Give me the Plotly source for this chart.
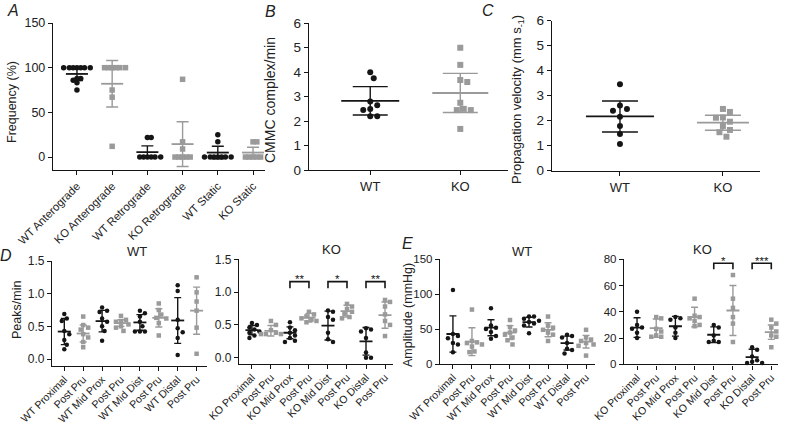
import plotly.graph_objects as go

W, H = 785, 425

# ---------------- DATA ----------------
A_cats = ["WT Anterograde", "KO Anterograde", "WT Retrograde", "KO Retrograde", "WT Static", "KO Static"]
A_vals = [
    [100, 100, 100, 100, 100, 100, 100, 88, 88, 86, 83, 75],
    [100, 100, 100, 100, 100, 100, 75, 67, 12],
    [0, 0, 0, 0, 0, 0, 22, 22],
    [0, 0, 0, 0, 0, 9, 17, 87],
    [0, 0, 0, 0, 0, 0, 0, 17, 25],
    [0, 0, 0, 0, 0, 17, 17],
]
A_mean = [93, 82, 5.5, 14.5, 5, 5]
A_sd = [7.5, 26, 7, 25, 7, 6]

B_cats = ["WT", "KO"]
B_vals = [
    [4.0, 3.75, 2.8, 2.65, 2.45, 2.5, 2.2, 2.2],
    [5.0, 4.3, 3.68, 3.6, 2.75, 2.45, 2.45, 2.5, 1.68],
]
B_mean = [2.83, 3.15]
B_sd = [0.58, 0.8]

C_cats = ["WT", "KO"]
C_vals = [
    [3.46, 2.61, 2.47, 2.4, 2.16, 1.79, 1.47, 1.07],
    [2.47, 2.35, 2.13, 2.12, 1.96, 1.79, 1.63, 1.54, 1.36],
]
C_mean = [2.17, 1.92]
C_sd = [0.62, 0.3]

D_WT_cats = ["WT Proximal", "Post Pru", "WT Mid Prox", "Post Pru", "WT Mid Dist", "Post Pru", "WT Distal", "Post Pru"]
D_WT_vals = [
    [0.69, 0.62, 0.58, 0.43, 0.38, 0.29, 0.22, 0.15],
    [0.65, 0.52, 0.48, 0.45, 0.38, 0.33, 0.26, 0.18],
    [0.79, 0.74, 0.72, 0.62, 0.57, 0.5, 0.43, 0.28],
    [0.66, 0.6, 0.58, 0.57, 0.53, 0.5, 0.48, 0.43],
    [0.74, 0.7, 0.65, 0.57, 0.5, 0.42, 0.42, 0.42],
    [0.85, 0.75, 0.68, 0.63, 0.62, 0.55, 0.36],
    [1.13, 1.04, 0.6, 0.47, 0.41, 0.32, 0.06],
    [1.25, 1.02, 0.88, 0.74, 0.48, 0.08],
]
D_WT_mean = [0.42, 0.39, 0.58, 0.55, 0.56, 0.63, 0.59, 0.74]
D_WT_sd = [0.2, 0.13, 0.165, 0.05, 0.12, 0.14, 0.35, 0.36]

D_KO_cats = ["KO Proximal", "Post Pru", "KO Mid Prox", "Post Pru", "KO Mid Dist", "Post Pru", "KO Distal", "Post Pru"]
D_KO_vals = [
    [0.53, 0.5, 0.46, 0.43, 0.4, 0.38, 0.34, 0.3],
    [0.56, 0.5, 0.42, 0.38, 0.36, 0.36, 0.36],
    [0.54, 0.46, 0.42, 0.38, 0.34, 0.3, 0.26, 0.24],
    [0.7, 0.66, 0.63, 0.6, 0.58, 0.56, 0.54],
    [0.72, 0.7, 0.62, 0.58, 0.38, 0.28, 0.24],
    [0.82, 0.78, 0.74, 0.7, 0.67, 0.62, 0.6],
    [0.45, 0.43, 0.4, 0.3, 0.08, 0.0, 0.0],
    [0.88, 0.85, 0.78, 0.66, 0.56, 0.5, 0.33],
]
D_KO_mean = [0.42, 0.41, 0.38, 0.61, 0.49, 0.71, 0.25, 0.65]
D_KO_sd = [0.07, 0.08, 0.09, 0.065, 0.22, 0.09, 0.21, 0.2]
D_KO_sig = [(2, 3, "**"), (4, 5, "*"), (6, 7, "**")]

E_WT_cats = D_WT_cats
E_WT_vals = [
    [106, 43, 40, 37, 30, 28, 17],
    [78, 33, 31, 30, 28, 25, 18, 17],
    [80, 55, 52, 50, 46, 40, 36],
    [63, 53, 48, 45, 42, 38, 34, 28],
    [68, 68, 65, 62, 60, 58, 55, 44],
    [68, 55, 52, 49, 45, 42, 33],
    [42, 40, 38, 30, 22, 20, 15],
    [49, 38, 35, 33, 30, 28, 26, 12],
]
E_WT_mean = [43, 32, 52, 45, 60, 49, 30, 32]
E_WT_sd = [26, 20, 11.5, 10, 7, 10, 10, 9]

E_KO_cats = D_KO_cats
E_KO_vals = [
    [40, 30, 28, 27, 24, 20],
    [36, 35, 27, 25, 22, 21, 21],
    [36, 35, 34, 28, 24, 20],
    [50, 37, 36, 35, 33, 30, 29],
    [30, 28, 22, 18, 17, 17],
    [68, 50, 43, 36, 31, 17],
    [13, 11, 6, 3, 2, 1, 1],
    [34, 31, 28, 25, 22, 21, 13],
]
E_KO_mean = [28, 27.5, 29, 36, 22.5, 41, 5.5, 24.5]
E_KO_sd = [7.5, 7, 7.5, 7.5, 6, 19, 6, 5.5]
E_KO_sig = [(4, 5, "*"), (6, 7, "***")]

# ---------------- STYLE ----------------
FONT = "Liberation Sans, Arial, sans-serif"
BLACK = "#151515"
GREY = "#9a9a9a"

fig = go.Figure()


def swarm(vals, ppu_x, ppu_y, d):
    """deterministic beeswarm offsets (x units) so markers don't pile up"""
    placed = []
    offs = [0.0] * len(vals)
    order = sorted(range(len(vals)), key=lambda i: -vals[i])
    step = d / 2.0
    for i in order:
        ypx = vals[i] * ppu_y
        k = 0
        while True:
            if k == 0:
                cand = 0.0
            else:
                cand = ((k + 1) // 2) * step * (1 if k % 2 else -1)
            ok = all(((cand - px) ** 2 + (ypx - py) ** 2) >= d * d for px, py in placed)
            if ok:
                break
            k += 1
        placed.append((cand, ypx))
        offs[i] = cand / ppu_x
    return offs


def panel(n, xpx, ypx, xr, yr, cats, vals, means, sds, colors, symbols,
          msize, spread, mean_hw_px, cap_px, yticks, ytickfmt, tickfont, xtickfont, angle,
          sig=None, sigy=None, xstandoff=0):
    xa = "x" if n == 1 else "x%d" % n
    ya = "y" if n == 1 else "y%d" % n
    xdom = [xpx[0] / W, xpx[1] / W]
    ydom = [1 - ypx[1] / H, 1 - ypx[0] / H]
    ppu_x = (xpx[1] - xpx[0]) / (xr[1] - xr[0])
    ppu_y = (ypx[1] - ypx[0]) / (yr[1] - yr[0])
    for i, (v, m, s) in enumerate(zip(vals, means, sds)):
        offs = swarm(v, ppu_x, ppu_y, spread)
        fig.add_trace(go.Scatter(
            x=[i + o for o in offs], y=v, mode="markers", xaxis=xa, yaxis=ya,
            marker=dict(size=msize, color=colors[i], symbol=symbols[i], line=dict(width=0)),
            showlegend=False, hoverinfo="skip", cliponaxis=False))
        fig.add_trace(go.Scatter(
            x=[i], y=[m], mode="markers", xaxis=xa, yaxis=ya,
            marker=dict(size=1, color="rgba(0,0,0,0)"),
            error_y=dict(type="data", array=[s], width=cap_px, thickness=1.4, color=colors[i]),
            showlegend=False, hoverinfo="skip", cliponaxis=False))
        hw = mean_hw_px[i] / ppu_x
        fig.add_trace(go.Scatter(
            x=[i - hw, i + hw], y=[m, m], mode="lines", xaxis=xa, yaxis=ya,
            line=dict(color=colors[i], width=1.8),
            showlegend=False, hoverinfo="skip", cliponaxis=False))
    if sig:
        top, low = sigy
        # star text placed in paper coords (may lie above the axis range)
        top_px = ypx[0] + (yr[1] - top) * ppu_y
        star_y = 1 - (top_px - 2.5) / H
        for a, b, t in sig:
            fig.add_trace(go.Scatter(
                x=[a, a, b, b], y=[low, top, top, low], mode="lines", xaxis=xa, yaxis=ya,
                line=dict(color=BLACK, width=1.6), showlegend=False, hoverinfo="skip", cliponaxis=False))
            fig.add_annotation(x=(a + b) / 2, y=star_y, xref=xa, yref="paper", text=t, showarrow=False,
                               yanchor="middle", font=dict(size=11.5, color=BLACK, family=FONT))
    axcommon = dict(showline=True, linecolor=BLACK, linewidth=1.4, ticks="outside", ticklen=4,
                    tickwidth=1.2, tickcolor=BLACK, showgrid=False, zeroline=False, automargin=False)
    fig.layout[("xaxis" if n == 1 else "xaxis%d" % n)] = dict(
        domain=xdom, range=list(xr), anchor=ya, tickvals=list(range(len(cats))), ticktext=cats,
        tickangle=angle, ticklabelstandoff=xstandoff,
        tickfont=dict(size=xtickfont, color="#222", family=FONT), **axcommon)
    fig.layout[("yaxis" if n == 1 else "yaxis%d" % n)] = dict(
        domain=ydom, range=list(yr), anchor=xa, tickvals=yticks, tickformat=ytickfmt,
        tickfont=dict(size=tickfont, color="#222", family=FONT), **axcommon)


# Panel A
panel(1, (53, 265), (23, 170), (-0.68, 5.34), (-14.5, 150), A_cats, A_vals, A_mean, A_sd,
      [BLACK, GREY] * 3, ["circle", "square"] * 3, 5.5, 3.8, [11] * 6, 6,
      [0, 50, 100, 150], "d", 12.5, 11.3, -45)
# Panel B
panel(2, (309, 508), (23.3, 170), (-0.68, 1.53), (0, 6), B_cats, B_vals, B_mean, B_sd,
      [BLACK, GREY], ["circle", "square"], 6, 7, [29, 28], 17.5,
      [0, 1, 2, 3, 4, 5, 6], "d", 13.5, 13, 0)
# Panel C
panel(3, (552, 760), (20.7, 170.7), (-0.66, 1.36), (0, 6), C_cats, C_vals, C_mean, C_sd,
      [BLACK, GREY], ["circle", "square"], 6, 7, [34, 26], 18,
      [0, 1, 2, 3, 4, 5, 6], "d", 13.5, 13, 0)
dcol = [BLACK, GREY] * 4
dsym = ["circle", "square"] * 4
# Panel D WT
panel(4, (52, 207), (261, 366), (-0.65, 7.55), (-0.107, 1.5), D_WT_cats, D_WT_vals, D_WT_mean, D_WT_sd,
      dcol, dsym, 4.5, 5, [6.5] * 8, 3.5, [0, 0.5, 1.0, 1.5], ".1f", 12, 10.6, -45, xstandoff=-2)
# Panel D KO
panel(5, (239, 393), (259.3, 364), (-0.68, 7.42), (-0.096, 1.5), D_KO_cats, D_KO_vals, D_KO_mean, D_KO_sd,
      dcol, dsym, 4.5, 5, [6.5] * 8, 3.5, [0, 0.5, 1.0, 1.5], ".1f", 12, 10.6, -45,
      sig=D_KO_sig, sigy=(1.16, 1.06), xstandoff=-2)
# Panel E WT
panel(6, (440, 595), (259.3, 364), (-0.68, 7.47), (0, 150), E_WT_cats, E_WT_vals, E_WT_mean, E_WT_sd,
      dcol, dsym, 4.5, 5, [6.5] * 8, 3.5, [0, 50, 100, 150], "d", 11.5, 10.6, -45, xstandoff=-2)
# Panel E KO
panel(7, (624, 778), (259.3, 364.3), (-0.68, 7.35), (0, 80), E_KO_cats, E_KO_vals, E_KO_mean, E_KO_sd,
      dcol, dsym, 4.5, 5, [6.5] * 8, 3.5, [0, 20, 40, 60, 80], "d", 11.5, 10.6, -45,
      sig=E_KO_sig, sigy=(77, 72.5), xstandoff=-2)


def ann(xp, yp, text, size, angle=0, italic=False):
    fig.add_annotation(x=xp / W, y=1 - yp / H, xref="paper", yref="paper", text=text,
                       showarrow=False, textangle=angle, xanchor="center", yanchor="middle",
                       font=dict(size=size, color="#222", family=FONT,
                                 style="italic" if italic else "normal"))


# panel letters
ann(13, 11, "A", 16, italic=True)
ann(270, 12, "B", 16, italic=True)
ann(488, 11, "C", 16, italic=True)
ann(6, 255, "D", 16, italic=True)
ann(407, 243, "E", 16, italic=True)
# axis titles
ann(12, 102, "Frequency (%)", 12.5, angle=-90)
ann(270, 100, "CMMC complex/min", 14, angle=-90)
ann(517, 100, "Propagation velocity (mm s<sub>-1</sub>)", 13, angle=-90)
ann(17, 310, "Peaks/min", 12.5, angle=-90)
ann(408, 315, "Amplitude (mmHg)", 12.5, angle=-90)
# panel titles
ann(137, 251, "WT", 13)
ann(331, 249, "KO", 13)
ann(522, 251, "WT", 13)
ann(702, 249, "KO", 13)

fig.update_layout(width=W, height=H, margin=dict(l=0, r=0, t=0, b=0, autoexpand=False),
                  plot_bgcolor="white", paper_bgcolor="white",
                  font=dict(family=FONT, color="#222"), showlegend=False)

fig.write_html("out.html", config={"displayModeBar": False},
               post_script="document.body.style.margin='0px';document.body.style.overflow='hidden';")
